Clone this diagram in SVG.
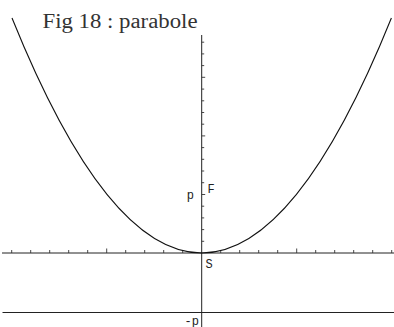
<svg xmlns="http://www.w3.org/2000/svg" width="394" height="327" viewBox="0 0 394 327">
<style>
.ax{stroke:#222;stroke-width:1;fill:none}
.tk{stroke:#333;stroke-width:0.9}
.cv{stroke:#111;stroke-width:1.1;fill:none}
.lb{font-family:"Liberation Mono","DejaVu Sans Mono",monospace;font-size:12px;fill:#222}
.tt{font-family:"Liberation Serif","DejaVu Serif",serif;font-size:20px;fill:#333}
</style>
<rect width="394" height="327" fill="#fff"/>
<g id="title"><text class="tt" x="42.5" y="27.5" textLength="155" lengthAdjust="spacingAndGlyphs">Fig 18 : parabole</text></g>
<g id="axes">
<line class="ax" x1="2" y1="253" x2="394" y2="253"/>
<line class="ax" x1="201.7" y1="35" x2="201.7" y2="327"/>
<line class="ax" x1="2.5" y1="312.5" x2="394" y2="312.5"/>
</g>
<g id="xticks" class="tk">
<path d="M11.7 253v-3M30.7 253v-3M49.7 253v-3M68.7 253v-3M87.7 253v-3M106.7 253v-4.5M125.7 253v-3M144.7 253v-3M163.7 253v-3M182.7 253v-3M220.7 253v-3M239.7 253v-3M258.7 253v-3M277.7 253v-3M296.7 253v-4.5M315.7 253v-3M334.7 253v-3M353.7 253v-3M372.7 253v-3M391.7 253v-3"/>
</g>
<g id="yticks" class="tk">
<path d="M201.7 241.3h2.5M201.7 229.6h2.5M201.7 217.9h2.5M201.7 206.2h2.5M201.7 194.5h3.5M201.7 182.7h2.5M201.7 171h2.5M201.7 159.3h2.5M201.7 147.6h2.5M201.7 135.9h3.5M201.7 124.2h2.5M201.7 112.5h2.5M201.7 100.8h2.5M201.7 89.1h2.5M201.7 77.3h3.5M201.7 65.6h2.5M201.7 53.9h2.5M201.7 42.2h2.5"/>
</g>
<g id="parabola"><path class="cv" d="M12 18Q201.7 488 391.4 18"/></g>
<g id="labels">
<text class="lb" x="194" y="199" text-anchor="end">p</text>
<text class="lb" x="207.5" y="193">F</text>
<text class="lb" x="205.5" y="267.5">S</text>
<text class="lb" x="199" y="324.5" text-anchor="end">-p</text>
</g>
</svg>
